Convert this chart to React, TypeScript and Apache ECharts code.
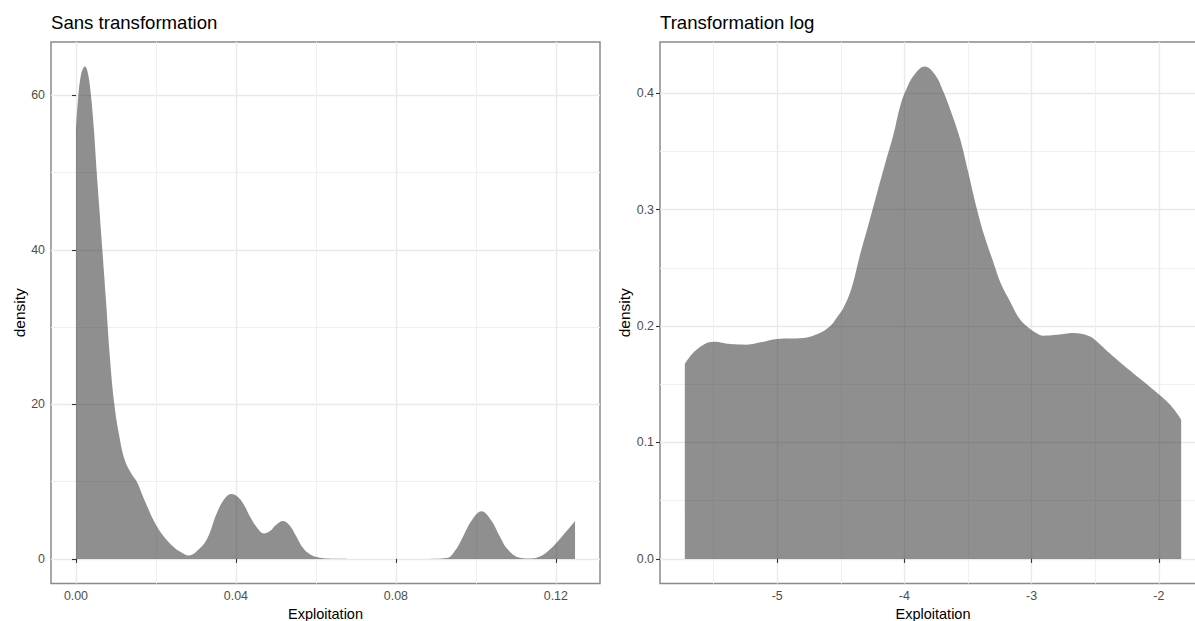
import React, { useEffect, useRef } from "react";
import * as echarts from "echarts";

// Kernel density of the raw exploitation rate
const rawX = [
  0.0, 0.0006, 0.0012, 0.0018, 0.00225, 0.003, 0.00375, 0.0045, 0.0052, 0.0059,
  0.0066, 0.0075, 0.0085, 0.0096, 0.0108, 0.0122, 0.0139, 0.0152, 0.0165, 0.0178,
  0.0195, 0.0214, 0.0243, 0.0265, 0.0281, 0.03, 0.0327, 0.0352, 0.0372, 0.0389,
  0.0405, 0.042, 0.0435, 0.0455, 0.047, 0.0485, 0.05, 0.0518, 0.0535, 0.055,
  0.0568, 0.0585, 0.0602, 0.063, 0.07, 0.088, 0.0927, 0.095, 0.0968, 0.099,
  0.1014, 0.1038, 0.106, 0.108, 0.111, 0.114, 0.116, 0.118, 0.12, 0.122,
  0.1235, 0.1248,
];
const rawDensity = [
  55.5, 60, 62.5, 63.5, 63.7, 62.8, 60, 55.5, 50, 45,
  40, 33.5, 26, 20, 16, 12.8, 11, 10, 8.4, 6.8,
  4.9, 3.3, 1.6, 0.8, 0.45, 0.9, 2.5, 5.9, 7.8, 8.4,
  8.0, 7.0, 5.5, 3.9, 3.3, 3.6, 4.4, 4.9, 4.3, 3.0,
  1.4, 0.6, 0.25, 0.05, 0, 0, 0.1, 1.2, 2.9, 5.0,
  6.15, 5.0, 2.9, 1.2, 0.15, 0.05, 0.3, 1.0, 2.0, 3.2,
  4.1, 4.9,
];

// Kernel density of the log-transformed exploitation rate
const logX = [
  -5.726, -5.634, -5.498, -5.37, -5.241, -5.12, -5.0, -4.795, -4.664, -4.585,
  -4.533, -4.48, -4.415, -4.349, -4.28, -4.218, -4.15, -4.087, -4.03, -3.982,
  -3.92, -3.84, -3.76, -3.694, -3.63, -3.563, -3.5, -3.431, -3.37, -3.301,
  -3.24, -3.169, -3.1, -3.038, -2.97, -2.907, -2.8, -2.671, -2.55, -2.487,
  -2.4, -2.251, -2.15, -2.042, -1.911, -1.824,
];
const logDensity = [
  0.1676, 0.1797, 0.1865, 0.1845, 0.184, 0.1862, 0.1888, 0.1897, 0.194, 0.1997,
  0.2069, 0.2154, 0.2326, 0.261, 0.288, 0.313, 0.34, 0.364, 0.39, 0.404,
  0.416, 0.4228, 0.416, 0.4014, 0.383, 0.361, 0.333, 0.301, 0.277, 0.255,
  0.236, 0.221, 0.207, 0.1997, 0.1945, 0.1917, 0.1925, 0.194, 0.1915, 0.1868,
  0.178, 0.164, 0.155, 0.1453, 0.1324, 0.1196,
];

const rawXTicks = [0, 0.04, 0.08, 0.12];
const rawXMinor = [0.02, 0.06, 0.1];
const rawYTicks = [0, 20, 40, 60];
const rawYMinor = [10, 30, 50];
const logXTicks = [-5, -4, -3, -2];
const logXMinor = [-5.5, -4.5, -3.5, -2.5];
const logYTicks = [0, 0.1, 0.2, 0.3, 0.4];
const logYMinor = [0.05, 0.15, 0.25, 0.35];

const panelTitles = ["Sans transformation", "Transformation log"];
const xTitle = "Exploitation";
const yTitle = "density";

const FONT = "'Liberation Sans', Arial, Helvetica, sans-serif";
const FILL = "rgba(51,51,51,0.55)";

// 5% padding on each side of the data range, as ggplot does
function padRange(lo: number, hi: number): [number, number] {
  const pad = (hi - lo) * 0.05;
  return [lo - pad, hi + pad];
}

function pairs(xs: number[], ys: number[]) {
  return xs.map((x, i) => [x, ys[i]]);
}

function majorAxis(
  gridIndex: number,
  range: [number, number],
  ticks: number[],
  name: string,
  nameGap: number,
  nameSize: number,
  fmt: (v: number) => string
) {
  return {
    type: "value",
    gridIndex,
    min: range[0],
    max: range[1],
    name,
    nameLocation: "middle",
    nameGap,
    nameTextStyle: { fontSize: nameSize, color: "#000", fontFamily: FONT },
    axisLine: { show: false },
    axisTick: {
      show: true,
      length: 4,
      customValues: ticks,
      lineStyle: { color: "#333", width: 1.1 },
    },
    axisLabel: {
      show: true,
      customValues: ticks,
      margin: 6,
      fontSize: 12.4,
      color: "#4d4d4d",
      fontFamily: FONT,
      formatter: fmt,
    },
    splitLine: { show: true, lineStyle: { color: "#e9e9e9", width: 1.4 } },
  };
}

function minorAxis(gridIndex: number, range: [number, number], ticks: number[]) {
  return {
    type: "value",
    gridIndex,
    min: range[0],
    max: range[1],
    axisLine: { show: false },
    axisTick: { show: false, customValues: ticks },
    axisLabel: { show: false, customValues: ticks },
    splitLine: { show: true, lineStyle: { color: "#f0f0f0", width: 1 } },
  };
}

export default function App() {
  const ref = useRef<HTMLDivElement>(null);

  useEffect(() => {
    if (!ref.current) return;
    const chart = echarts.init(ref.current, undefined, { renderer: "svg" });

    const rawXRange = padRange(Math.min(...rawX), Math.max(...rawX));
    const rawYRange = padRange(0, Math.max(...rawDensity));
    const logXRange = padRange(Math.min(...logX), Math.max(...logX));
    const logYRange = padRange(0, Math.max(...logDensity));

    const fmtRaw = (v: number) => v.toFixed(2);
    const fmtInt = (v: number) => String(Math.round(v));
    const fmtOne = (v: number) => v.toFixed(1);

    const gridBase = {
      top: 42,
      height: 541.5,
      show: true,
      borderColor: "#8a8a8a",
      borderWidth: 1.5,
      backgroundColor: "transparent",
      containLabel: false,
      outerBoundsMode: "none",
    };

    chart.setOption({
      animation: false,
      backgroundColor: "#fff",
      title: panelTitles.map((t, i) => ({
        text: t,
        left: i === 0 ? 51 : 660,
        top: 13,
        padding: 0,
        textStyle: {
          fontSize: 18.6,
          fontWeight: "normal",
          color: "#000",
          fontFamily: FONT,
        },
      })),
      grid: [
        { ...gridBase, left: 51, width: 549 },
        { ...gridBase, left: 660, width: 546 },
      ],
      xAxis: [
        majorAxis(0, rawXRange, rawXTicks, xTitle, 17, 14.5, fmtRaw),
        minorAxis(0, rawXRange, rawXMinor),
        majorAxis(1, logXRange, logXTicks, xTitle, 17, 14.5, fmtInt),
        minorAxis(1, logXRange, logXMinor),
      ],
      yAxis: [
        majorAxis(0, rawYRange, rawYTicks, yTitle, 23, 15.5, fmtInt),
        minorAxis(0, rawYRange, rawYMinor),
        majorAxis(1, logYRange, logYTicks, yTitle, 27, 15.5, fmtOne),
        minorAxis(1, logYRange, logYMinor),
      ],
      series: [
        {
          type: "line",
          xAxisIndex: 0,
          yAxisIndex: 0,
          data: pairs(rawX, rawDensity),
          smooth: 0.4,
          showSymbol: false,
          symbol: "none",
          lineStyle: { width: 0 },
          areaStyle: { color: FILL, opacity: 1 },
          silent: true,
        },
        {
          type: "line",
          xAxisIndex: 2,
          yAxisIndex: 2,
          data: pairs(logX, logDensity),
          smooth: 0.4,
          showSymbol: false,
          symbol: "none",
          lineStyle: { width: 0 },
          areaStyle: { color: FILL, opacity: 1 },
          silent: true,
        },
      ],
    });

    return () => chart.dispose();
  }, []);

  return (
    <div
      ref={ref}
      style={{ position: "fixed", left: 0, top: 0, width: 1195, height: 621 }}
    />
  );
}
